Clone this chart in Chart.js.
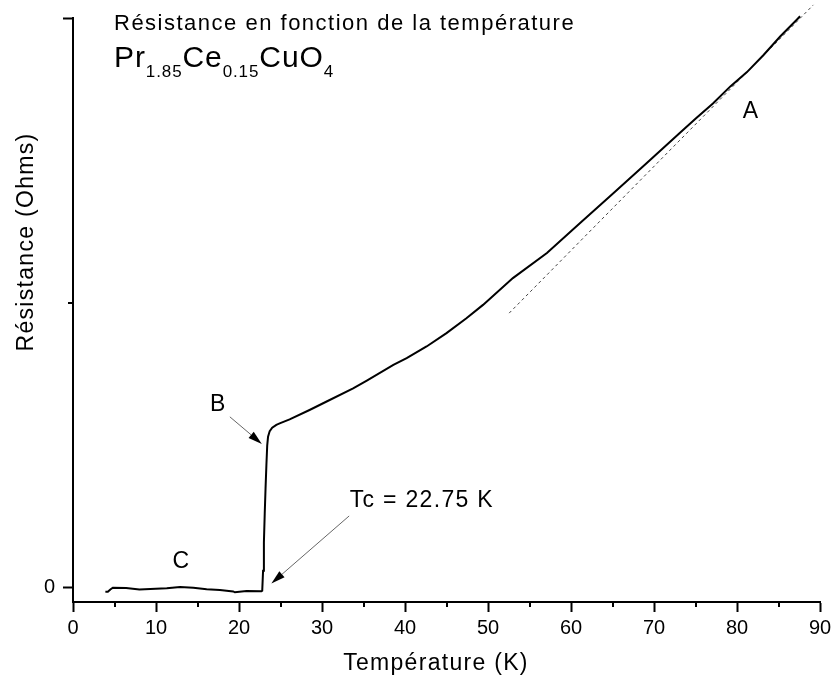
<!DOCTYPE html>
<html>
<head>
<meta charset="utf-8">
<script src="https://cdn.jsdelivr.net/npm/chart.js@4"></script>
<style>
  html, body { margin: 0; padding: 0; background: #fff; }
  canvas { display: block; }
</style>
</head>
<body>
<canvas id="chart" width="832" height="677"></canvas>
<script>
// Measured resistance of Pr1.85Ce0.15CuO4 vs temperature (arbitrary units, 0 → 2)
const TEMPERATURE = [3.9, 4.2, 4.5, 4.8, 6.4, 8.0, 11.3, 12.9, 14.5, 16.1,
  17.7, 19.3, 19.5, 20.9, 22.7, 22.8, 22.9, 23.0, 23.1, 23.2,
  23.3, 23.4, 23.5, 23.7, 24.0, 24.5, 24.9, 26.1, 28.5, 30.5,
  33.75, 35.4, 38.6, 40.2, 42.6, 45.0, 47.4, 49.4, 53.0, 57.1,
  61.1, 65.1, 69.1, 73.1, 75.1, 77.1, 79.2, 81.2, 83.2, 85.2,
  87.2, 87.6];
const RESISTANCE = [-0.014, -0.014, -0.006, 0.0, -0.001, -0.006, -0.002, 0.003, 0.0, -0.005,
  -0.008, -0.013, -0.016, -0.011, -0.012, -0.01, 0.06, 0.16, 0.26, 0.35,
  0.43, 0.50, 0.53, 0.55, 0.562, 0.572, 0.577, 0.591, 0.624, 0.653,
  0.70, 0.727, 0.782, 0.806, 0.847, 0.894, 0.946, 0.993, 1.087, 1.175,
  1.28, 1.385, 1.49, 1.596, 1.649, 1.70, 1.76, 1.81, 1.87, 1.935,
  1.994, 2.006];

// Linear high-temperature asymptote (dashed)
const FIT_T = [52.55, 89.2];
const FIT_R = [0.964, 2.046];

// Axis ticks
const X_TICKS = [0, 10, 20, 30, 40, 50, 60, 70, 80, 90];
const X_MINOR = [5, 15, 25, 35, 45, 55, 65, 75, 85];
const Y_TICKS = [0, 2];
const Y_TICK_LABELS = ['0', ''];
const Y_MINOR = [1];

// Region labels and arrows (data coordinates)
const LABELS = [
  { text: 'A', t: 80.7, r: 1.65 },
  { text: 'B', t: 16.5, r: 0.62 },
  { text: 'C', t: 12.0, r: 0.069 },
  { text: 'Tc = 22.75 K', t: 33.35, r: 0.283 }
];
const ARROWS = [
  { from: [18.9, 0.60], to: [22.75, 0.505] },
  { from: [33.27, 0.252], to: [23.9, 0.015] }
];

const FONT = '"Liberation Sans", Arial, Helvetica, sans-serif';
const toXY = (xs, ys) => xs.map((x, i) => ({ x, y: ys[i] }));

function drawRuns(ctx, x, baseline, runs, spacing) {
  ctx.letterSpacing = spacing;
  ctx.textAlign = 'left';
  ctx.textBaseline = 'alphabetic';
  for (const run of runs) {
    ctx.font = run.size + 'px ' + FONT;
    ctx.fillText(run.text, x, baseline + (run.dy || 0));
    x += ctx.measureText(run.text).width;
  }
}

function drawArrow(ctx, x1, y1, x2, y2) {
  const ang = Math.atan2(y2 - y1, x2 - x1);
  const len = 14, half = 4;
  const bx = x2 - len * Math.cos(ang), by = y2 - len * Math.sin(ang);
  ctx.strokeStyle = '#666';
  ctx.lineWidth = 1;
  ctx.beginPath();
  ctx.moveTo(x1, y1);
  ctx.lineTo(bx, by);
  ctx.stroke();
  ctx.fillStyle = '#000';
  ctx.beginPath();
  ctx.moveTo(x2, y2);
  ctx.lineTo(bx + half * Math.sin(ang), by - half * Math.cos(ang));
  ctx.lineTo(bx - half * Math.sin(ang), by + half * Math.cos(ang));
  ctx.closePath();
  ctx.fill();
}

const decorations = {
  id: 'decorations',
  afterDraw(chart) {
    const { ctx, chartArea, scales: { x, y } } = chart;
    ctx.save();

    // minor tick marks
    ctx.strokeStyle = '#000';
    ctx.lineWidth = 2;
    ctx.beginPath();
    X_MINOR.forEach(v => {
      const px = Math.round(x.getPixelForValue(v));
      ctx.moveTo(px, chartArea.bottom);
      ctx.lineTo(px, chartArea.bottom + 5);
    });
    Y_MINOR.forEach(v => {
      const py = Math.round(y.getPixelForValue(v));
      ctx.moveTo(chartArea.left, py);
      ctx.lineTo(chartArea.left - 5, py);
    });
    ctx.stroke();

    ctx.fillStyle = '#000';

    // title and compound formula
    drawRuns(ctx, 114, 30, [{ text: 'Résistance en fonction de la température', size: 22 }], '1.5px');
    drawRuns(ctx, 114, 67, [
      { text: 'Pr', size: 30 },
      { text: '1.85', size: 17, dy: 10 },
      { text: 'Ce', size: 30 },
      { text: '0.15', size: 17, dy: 10 },
      { text: 'CuO', size: 30 },
      { text: '4', size: 17, dy: 10 }
    ], '0.9px');

    // axis titles
    ctx.letterSpacing = '1.3px';
    ctx.font = '23px ' + FONT;
    ctx.textAlign = 'center';
    ctx.textBaseline = 'alphabetic';
    ctx.fillText('Température (K)', 436, 670);
    ctx.save();
    ctx.translate(33, 242);
    ctx.rotate(-Math.PI / 2);
    ctx.fillText('Résistance (Ohms)', 0, 0);
    ctx.restore();

    // region labels
    ctx.textAlign = 'left';
    LABELS.forEach(l => {
      ctx.fillText(l.text, x.getPixelForValue(l.t), y.getPixelForValue(l.r));
    });
    ctx.letterSpacing = '0px';

    // arrows
    ARROWS.forEach(a => {
      drawArrow(ctx,
        x.getPixelForValue(a.from[0]), y.getPixelForValue(a.from[1]),
        x.getPixelForValue(a.to[0]), y.getPixelForValue(a.to[1]));
    });

    ctx.restore();
  }
};

new Chart(document.getElementById('chart'), {
  type: 'line',
  data: {
    datasets: [
      {
        label: 'R(T)',
        data: toXY(TEMPERATURE, RESISTANCE),
        borderColor: '#000',
        borderWidth: 2,
        pointRadius: 0,
        tension: 0,
        clip: false
      },
      {
        label: 'Asymptote',
        data: toXY(FIT_T, FIT_R),
        borderColor: '#444',
        borderWidth: 1,
        borderDash: [3, 3],
        pointRadius: 0,
        clip: false
      }
    ]
  },
  options: {
    responsive: false,
    devicePixelRatio: 1,
    animation: false,
    layout: { padding: { top: 18, right: 12, left: 0, bottom: 0 } },
    plugins: { legend: { display: false }, tooltip: { enabled: false }, title: { display: false } },
    scales: {
      x: {
        type: 'linear',
        min: 0,
        max: 90,
        afterFit: s => { s.height = 75; s.paddingLeft = 0; s.paddingRight = 0; },
        afterBuildTicks: s => { s.ticks = X_TICKS.map(v => ({ value: v })); },
        grid: { drawOnChartArea: false, drawTicks: true, tickLength: 10, tickWidth: 2, tickColor: '#000' },
        border: { display: true, color: '#000', width: 2 },
        ticks: {
          color: '#000',
          font: { family: FONT, size: 20 },
          padding: 4,
          maxRotation: 0,
          autoSkip: false,
          callback: v => String(v)
        }
      },
      y: {
        type: 'linear',
        min: -0.05,
        max: 2,
        afterFit: s => { s.width = 73; s.paddingTop = 0; s.paddingBottom = 0; },
        afterBuildTicks: s => { s.ticks = Y_TICKS.map(v => ({ value: v })); },
        grid: { drawOnChartArea: false, drawTicks: true, tickLength: 10, tickWidth: 2, tickColor: '#000' },
        border: { display: true, color: '#000', width: 2 },
        ticks: {
          color: '#000',
          font: { family: FONT, size: 20 },
          padding: 8,
          autoSkip: false,
          callback: (v, i) => Y_TICK_LABELS[i]
        }
      }
    }
  },
  plugins: [decorations]
});
</script>
</body>
</html>
